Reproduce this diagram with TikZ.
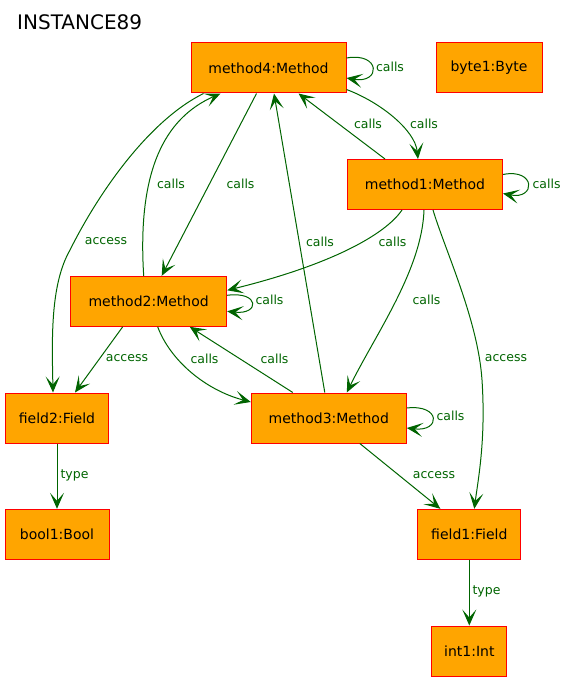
\documentclass[tikz,border=0pt]{standalone}
\usepackage{fontspec}
\setmainfont{DejaVu Sans}
\usetikzlibrary{arrows.meta}
\definecolor{objfill}{HTML}{FFA500}
\definecolor{objline}{HTML}{FF0000}
\definecolor{relgreen}{HTML}{006400}

\begin{document}
\begin{tikzpicture}[x=1pt, y=-1pt,
		obj/.style={rectangle, draw=objline, fill=objfill, line width=1pt, inner sep=0pt, minimum height=50pt, font=\fontsize{14}{16}\selectfont},
		rel/.style={draw=relgreen, line width=1pt, -{Stealth[length=16pt, width=14pt, inset=8pt]}},
		lbl/.style={text=relgreen, inner sep=0pt, font=\fontsize{12.5}{14}\selectfont}]
				\useasboundingbox (0, 0) rectangle (572, 682);
				\node[anchor=base west, inner sep=0pt, font=\fontsize{20}{24}\selectfont] (title) at (17, 30) {INSTANCE89};

				\node[obj, minimum width=155pt] (m4) at (268.5, 68.0) {method4:Method};
				\node[obj, minimum width=106pt] (byte1) at (489.0, 68.0) {byte1:Byte};
				\node[obj, minimum width=155pt] (m1) at (425.0, 184.5) {method1:Method};
				\node[obj, minimum width=156pt] (m2) at (148.7, 301.3) {method2:Method};
				\node[obj, minimum width=103pt] (f2) at (57.0, 418.0) {field2:Field};
				\node[obj, minimum width=155pt] (m3) at (328.8, 418.0) {method3:Method};
				\node[obj, minimum width=104pt] (bool1) at (57.0, 534.3) {bool1:Bool};
				\node[obj, minimum width=103pt] (f1) at (469.3, 534.3) {field1:Field};
				\node[obj, minimum width=75pt] (int1) at (469.3, 651.0) {int1:Int};

				\draw[rel] ([yshift=10pt]m4.east) .. controls (381, 52) and (381, 84) .. ([yshift=-10pt]m4.east);
				\draw[rel] ([yshift=4pt]m4.south east) .. controls (380, 102) and (415, 130) .. ([xshift=-7pt]m1.north);
				\draw[rel] ([xshift=-40pt]m1.north) -- ([xshift=30pt]m4.south);
				\draw[rel] ([yshift=10pt]m1.east) .. controls (536, 168) and (536, 200) .. ([yshift=-9pt]m1.east);
				\draw[rel] ([xshift=-12pt]m4.south) -- ([xshift=13pt]m2.north);
				\draw[rel] ([xshift=-5pt]m2.north) .. controls (137, 170) and (165, 118) .. ([xshift=-48pt]m4.south);
				\draw[rel] ([xshift=-65pt]m4.south) .. controls (150, 120) and (100, 190) .. (70, 250) .. controls (50, 285) and (52, 340) .. ([xshift=-4pt]f2.north);
				\draw[rel] ([xshift=-4pt]m3.north) -- ([xshift=5.5pt]m4.south);
				\draw[rel] ([xshift=-23pt]m1.south) .. controls (385, 235) and (330, 265) .. ([yshift=11pt]m2.east);
				\draw[rel] ([xshift=-1pt]m1.south) .. controls (422, 270) and (375, 335) .. ([xshift=18pt]m3.north);
				\draw[rel] ([xshift=8pt]m1.south) .. controls (445, 250) and (478, 320) .. (482, 380) .. controls (486, 440) and (478, 480) .. ([xshift=5pt]f1.north);
				\draw[rel] ([yshift=6pt]m2.east) .. controls (260, 291) and (260, 315) .. ([yshift=-10pt]m2.east);
				\draw[rel] ([xshift=-26pt]m2.south) -- ([xshift=18pt]f2.north);
				\draw[rel] ([xshift=9pt]m2.south) .. controls (170, 360) and (205, 390) .. ([yshift=16pt]m3.west);
				\draw[rel] ([xshift=-36pt]m3.north) -- ([xshift=41pt]m2.south);
				\draw[rel] ([yshift=10pt]m3.east) .. controls (441, 404) and (441, 432) .. ([yshift=-10pt]m3.east);
				\draw[rel] ([xshift=31pt]m3.south) -- ([xshift=-29pt]f1.north);
				\draw[rel] (f2) -- (bool1);
				\draw[rel] (f1) -- (int1);

				\node[lbl] (l1) at (390.0, 67.0) {calls};
				\node[lbl] (l2) at (424.0, 124.0) {calls};
				\node[lbl] (l3) at (368.0, 124.0) {calls};
				\node[lbl] (l4) at (546.5, 183.5) {calls};
				\node[lbl] (l5) at (240.5, 183.5) {calls};
				\node[lbl] (l6) at (171.0, 183.5) {calls};
				\node[lbl] (l7) at (106.0, 241.5) {access};
				\node[lbl] (l8) at (320.0, 241.5) {calls};
				\node[lbl] (l9) at (392.5, 241.5) {calls};
				\node[lbl] (l10) at (426.5, 299.5) {calls};
				\node[lbl] (l11) at (506.0, 358.5) {access};
				\node[lbl] (l12) at (269.5, 299.5) {calls};
				\node[lbl] (l13) at (127.0, 358.5) {access};
				\node[lbl] (l14) at (204.5, 358.5) {calls};
				\node[lbl] (l15) at (274.5, 358.5) {calls};
				\node[lbl] (l16) at (450.5, 416.0) {calls};
				\node[lbl] (l17) at (434.0, 475.0) {access};
				\node[lbl] (l18) at (74.5, 475.0) {type};
				\node[lbl] (l19) at (486.5, 591.5) {type};
			\end{tikzpicture}
\end{document}
